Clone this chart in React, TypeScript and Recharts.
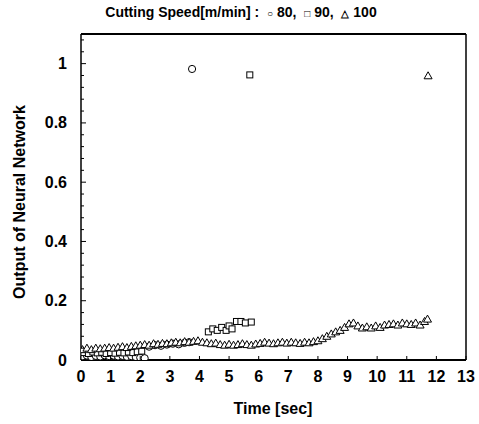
import React from "react";
import { ScatterChart, Scatter, XAxis, YAxis, ReferenceLine } from "recharts";

// Cutting speed 80 m/min (circles)
const speed80 = [
  { t: 0.05, v: 0.012 }, { t: 0.2, v: 0.015 }, { t: 0.35, v: 0.01 }, { t: 0.5, v: 0.014 },
  { t: 0.65, v: 0.012 }, { t: 0.8, v: 0.016 }, { t: 0.95, v: 0.013 }, { t: 1.1, v: 0.015 },
  { t: 1.25, v: 0.012 }, { t: 1.4, v: 0.014 }, { t: 1.55, v: 0.011 }, { t: 1.7, v: 0.013 },
  { t: 1.85, v: 0.01 }, { t: 2.0, v: 0.008 }, { t: 2.15, v: 0.006 },
  { t: 2.3, v: 0.045 }, { t: 2.5, v: 0.05 }, { t: 2.7, v: 0.048 }, { t: 2.9, v: 0.052 },
  { t: 3.1, v: 0.055 }, { t: 3.3, v: 0.053 }, { t: 3.5, v: 0.058 }, { t: 3.65, v: 0.06 },
  { t: 3.75, v: 0.982 },
];

// Cutting speed 90 m/min (squares)
const speed90 = [
  { t: 0.1, v: 0.025 }, { t: 0.25, v: 0.022 }, { t: 0.4, v: 0.027 }, { t: 0.55, v: 0.024 },
  { t: 0.7, v: 0.026 }, { t: 0.85, v: 0.022 }, { t: 1.0, v: 0.025 }, { t: 1.15, v: 0.023 },
  { t: 1.3, v: 0.026 }, { t: 1.45, v: 0.024 }, { t: 1.6, v: 0.027 }, { t: 1.75, v: 0.025 },
  { t: 1.9, v: 0.028 }, { t: 2.05, v: 0.03 },
  { t: 4.3, v: 0.095 }, { t: 4.45, v: 0.105 }, { t: 4.6, v: 0.1 }, { t: 4.75, v: 0.11 },
  { t: 4.9, v: 0.1 }, { t: 5.0, v: 0.115 }, { t: 5.1, v: 0.105 }, { t: 5.25, v: 0.13 },
  { t: 5.4, v: 0.13 }, { t: 5.55, v: 0.125 }, { t: 5.75, v: 0.128 },
  { t: 5.7, v: 0.962 },
];

// Cutting speed 100 m/min (triangles)
const speed100 = [
  { t: 0.05, v: 0.035 }, { t: 0.2, v: 0.04 }, { t: 0.35, v: 0.035 }, { t: 0.5, v: 0.04 },
  { t: 0.65, v: 0.038 }, { t: 0.8, v: 0.04 }, { t: 0.95, v: 0.042 }, { t: 1.1, v: 0.04 },
  { t: 1.25, v: 0.043 }, { t: 1.4, v: 0.045 }, { t: 1.55, v: 0.042 }, { t: 1.7, v: 0.046 },
  { t: 1.85, v: 0.048 }, { t: 2.0, v: 0.05 }, { t: 2.15, v: 0.052 }, { t: 2.3, v: 0.05 },
  { t: 2.45, v: 0.055 }, { t: 2.6, v: 0.053 }, { t: 2.75, v: 0.056 }, { t: 2.9, v: 0.055 },
  { t: 3.05, v: 0.058 }, { t: 3.2, v: 0.06 }, { t: 3.35, v: 0.058 }, { t: 3.5, v: 0.062 },
  { t: 3.65, v: 0.06 }, { t: 3.8, v: 0.063 }, { t: 3.95, v: 0.065 }, { t: 4.1, v: 0.06 },
  { t: 4.25, v: 0.058 }, { t: 4.4, v: 0.055 }, { t: 4.55, v: 0.057 }, { t: 4.7, v: 0.052 },
  { t: 4.85, v: 0.05 }, { t: 5.0, v: 0.053 }, { t: 5.15, v: 0.05 }, { t: 5.3, v: 0.052 },
  { t: 5.45, v: 0.055 }, { t: 5.6, v: 0.052 }, { t: 5.75, v: 0.05 }, { t: 5.9, v: 0.054 },
  { t: 6.05, v: 0.056 }, { t: 6.2, v: 0.06 }, { t: 6.35, v: 0.057 }, { t: 6.5, v: 0.055 },
  { t: 6.65, v: 0.058 }, { t: 6.8, v: 0.06 }, { t: 6.95, v: 0.057 }, { t: 7.1, v: 0.06 },
  { t: 7.25, v: 0.058 }, { t: 7.4, v: 0.056 }, { t: 7.55, v: 0.06 }, { t: 7.7, v: 0.058 },
  { t: 7.85, v: 0.062 }, { t: 8.0, v: 0.065 }, { t: 8.15, v: 0.072 }, { t: 8.3, v: 0.08 },
  { t: 8.45, v: 0.088 }, { t: 8.6, v: 0.095 }, { t: 8.75, v: 0.1 }, { t: 8.9, v: 0.11 },
  { t: 9.05, v: 0.122 }, { t: 9.2, v: 0.125 }, { t: 9.35, v: 0.115 }, { t: 9.5, v: 0.108 },
  { t: 9.65, v: 0.112 }, { t: 9.8, v: 0.108 }, { t: 9.95, v: 0.115 }, { t: 10.1, v: 0.11 },
  { t: 10.25, v: 0.118 }, { t: 10.4, v: 0.12 }, { t: 10.55, v: 0.122 }, { t: 10.7, v: 0.118 },
  { t: 10.85, v: 0.125 }, { t: 11.0, v: 0.122 }, { t: 11.15, v: 0.12 }, { t: 11.3, v: 0.125 },
  { t: 11.45, v: 0.118 }, { t: 11.6, v: 0.13 }, { t: 11.7, v: 0.138 },
  { t: 11.72, v: 0.959 },
];

const xTicks = [0, 1, 2, 3, 4, 5, 6, 7, 8, 9, 10, 11, 12, 13];
const yTicks = [0, 0.04, 0.08, 0.12, 0.16, 0.2, 0.24, 0.28, 0.32, 0.36, 0.4, 0.44, 0.48, 0.52, 0.56, 0.6,
  0.64, 0.68, 0.72, 0.76, 0.8, 0.84, 0.88, 0.92, 0.96, 1, 1.04, 1.08];
const yLabels = ["0", "0.2", "0.4", "0.6", "0.8", "1"];

const FONT = "'Liberation Sans', Arial, Helvetica, sans-serif";

const yLabelFor = (v: number) => {
  const k = v * 5;
  if (Math.abs(k - Math.round(k)) < 1e-6) return yLabels[Math.round(k)];
  return null;
};

const YTick = (props: any) => {
  const { x, y, payload } = props;
  const lab = yLabelFor(payload.value);
  return (
    <g>
      <line x1={x} x2={x + (lab ? 5 : 3)} y1={y} y2={y} stroke="#000" strokeWidth={1} />
      {lab && (
        <text x={x - 14} y={y} textAnchor="end" dominantBaseline="central" fontSize={16}
          fontWeight="bold" fontFamily={FONT} fill="#000">{lab}</text>
      )}
    </g>
  );
};

const XTick = (props: any) => {
  const { x, y, payload } = props;
  return (
    <g>
      <line x1={x} x2={x} y1={y} y2={y - 4} stroke="#000" strokeWidth={1} />
      <text x={x} y={y + 22} textAnchor="middle" fontSize={16} fontWeight="bold"
        fontFamily={FONT} fill="#000">{payload.value}</text>
    </g>
  );
};

const CircleMark = (p: any) => (
  <circle cx={p.cx} cy={p.cy} r={3.6} fill="#fff" stroke="#000" strokeWidth={1} />
);
const SquareMark = (p: any) => (
  <rect x={p.cx - 3} y={p.cy - 3} width={6} height={6} fill="#fff" stroke="#000" strokeWidth={1} />
);
const TriangleMark = (p: any) => (
  <path d={`M${p.cx},${p.cy - 4}L${p.cx + 4},${p.cy + 3}L${p.cx - 4},${p.cy + 3}Z`} fill="#fff" stroke="#000" strokeWidth={1} />
);

export default function App() {
  return (
    <div style={{ position: "absolute", left: 0, top: 0, width: 479, height: 424, background: "#fff", fontFamily: FONT }}>
      <div style={{ position: "absolute", left: 0, top: 4, width: 482, textAlign: "center", fontSize: 14, fontWeight: "bold", whiteSpace: "nowrap" }}>
        Cutting Speed[m/min] :&nbsp; <span style={{ fontSize: 10 }}>○</span> 80,&nbsp; <span style={{ fontSize: 10 }}>□</span> 90,&nbsp; <span style={{ fontSize: 10 }}>△</span> 100
      </div>
      <div style={{ position: "absolute", left: 20, top: 202, width: 0, height: 0 }}>
        <div style={{ position: "absolute", left: 0, top: 0, transform: "translate(-50%,-50%) rotate(-90deg)", fontSize: 16, fontWeight: "bold", whiteSpace: "nowrap" }}>
          Output of Neural Network
        </div>
      </div>
      <div style={{ position: "absolute", left: 173, top: 400, width: 200, textAlign: "center", fontSize: 16, fontWeight: "bold" }}>
        Time [sec]
      </div>
      <ScatterChart width={479} height={424} margin={{ top: 34, right: 13, bottom: 0, left: 0 }} style={{ position: "absolute", left: 0, top: 0 }}>
        <XAxis type="number" dataKey="t" domain={[0, 13]} ticks={xTicks} interval={0} height={64}
          tickSize={0} tickMargin={0} tickLine={false} tick={<XTick />}
          axisLine={{ stroke: "#000", strokeWidth: 2 }} allowDataOverflow />
        <YAxis type="number" dataKey="v" domain={[0, 1.1]} ticks={yTicks} interval={0} width={81}
          tickSize={0} tickMargin={0} tickLine={false} tick={<YTick />}
          axisLine={{ stroke: "#000", strokeWidth: 1.5 }} allowDataOverflow />
        <ReferenceLine y={1.1} stroke="#000" strokeWidth={2} />
        <ReferenceLine x={13} stroke="#000" strokeWidth={1.5} />
        <Scatter data={speed80} shape={CircleMark} isAnimationActive={false} />
        <Scatter data={speed90} shape={SquareMark} isAnimationActive={false} />
        <Scatter data={speed100} shape={TriangleMark} isAnimationActive={false} />
      </ScatterChart>
    </div>
  );
}
